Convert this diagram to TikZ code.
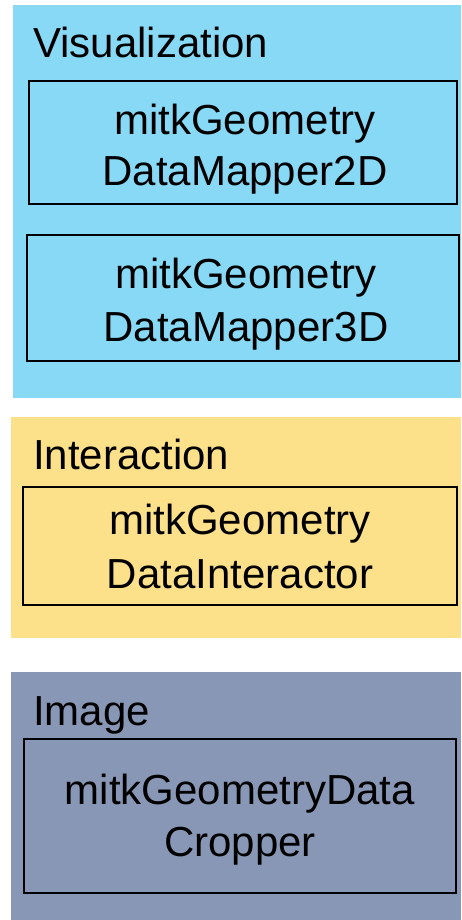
\documentclass[tikz,border=0pt]{standalone}
\usepackage{fontspec}
\setmainfont{Liberation Sans}
\definecolor{vizblue}{RGB}{135,217,246}
\definecolor{interyellow}{RGB}{253,224,138}
\definecolor{imggray}{RGB}{135,151,181}
\begin{document}
\begin{tikzpicture}[x=1pt,y=-1pt,
  modbox/.style={draw=black,line width=2pt},
  lbl/.style={font=\fontsize{42}{50.4}\selectfont,inner sep=0pt,anchor=base west},
  txt/.style={inner sep=0pt,align=center}]
\useasboundingbox (0,0) rectangle (461,920);
% panels
\fill[vizblue] (13,5) rectangle (461,398);
\fill[interyellow] (11,417) rectangle (461,638);
\fill[imggray] (11,672) rectangle (461,920);
% labels
\node[lbl] (vislbl) at (33,58) {Visualization};
\node[lbl] (intlbl) at (33,469) {Interaction};
\node[lbl] (imglbl) at (33,725) {Image};
% boxes
\draw[modbox] (29,81) rectangle (457,204);
\node[txt,font=\fontsize{42}{51}\selectfont] (map2d) at (245,149.5) {mitkGeometry\\DataMapper2D};
\draw[modbox] (27,235) rectangle (459,361);
\node[txt,font=\fontsize{42}{53.4}\selectfont] (map3d) at (246,304) {mitkGeometry\\DataMapper3D};
\draw[modbox] (23,487) rectangle (457,605);
\node[txt,font=\fontsize{42}{54}\selectfont] (inter) at (240,546.5) {mitkGeometry\\DataInteractor};
\draw[modbox] (24,739) rectangle (456,893);
\node[txt,font=\fontsize{42}{52}\selectfont] (crop) at (240,820) {mitkGeometryData\\Cropper};
\end{tikzpicture}
\end{document}
